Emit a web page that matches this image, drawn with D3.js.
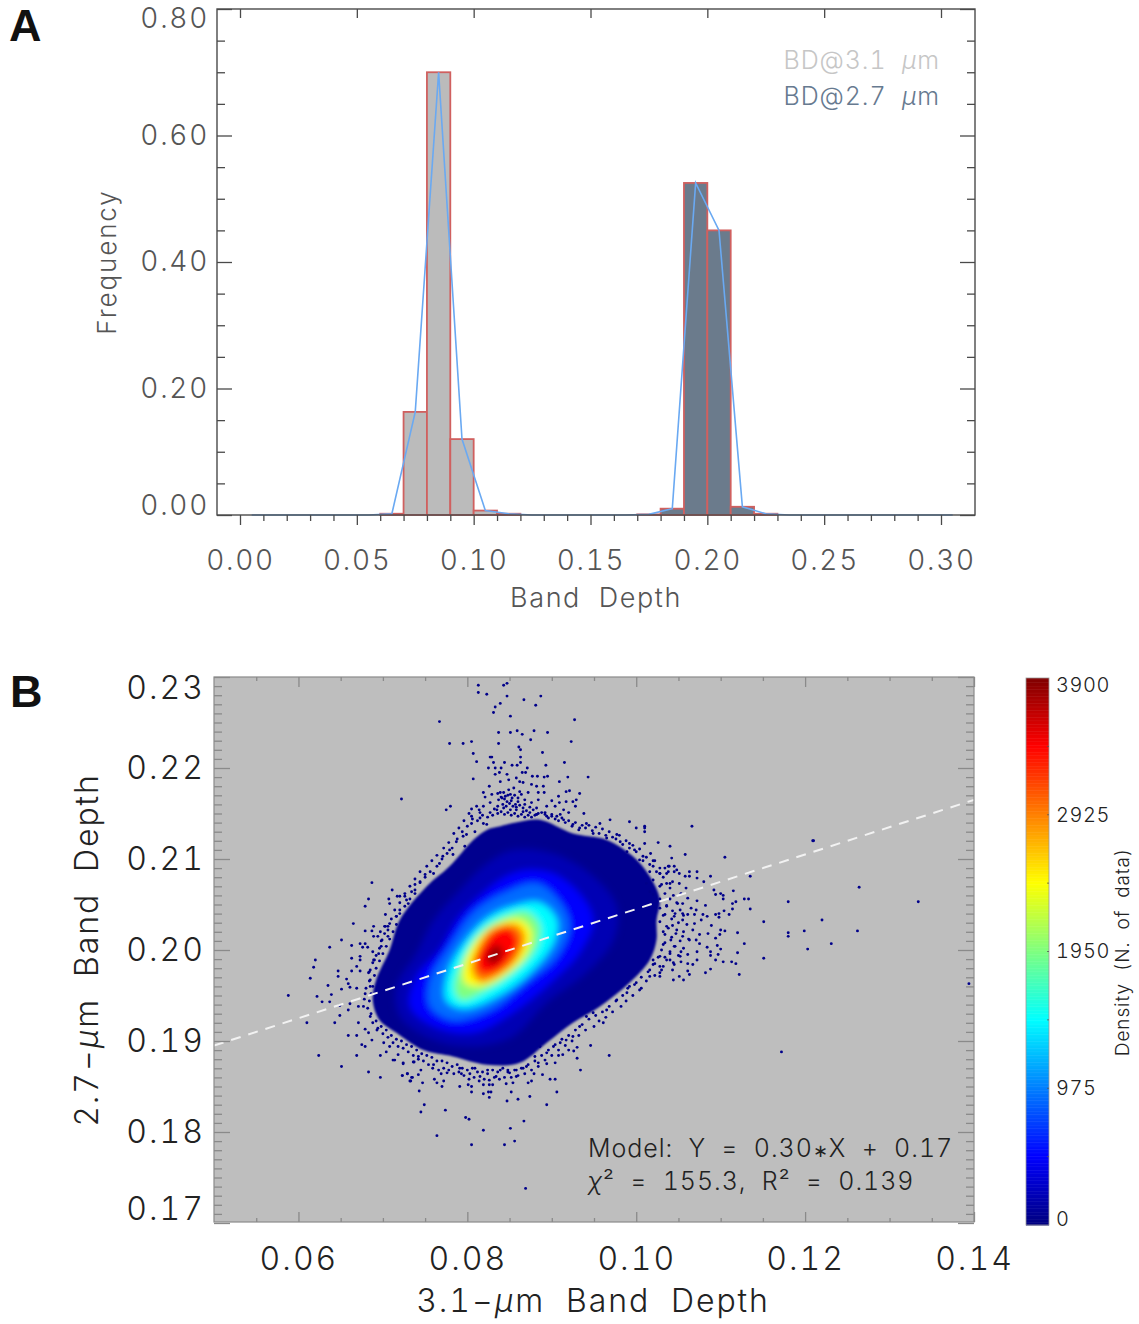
<!DOCTYPE html>
<html>
<head>
<meta charset="utf-8">
<script src="https://cdn.jsdelivr.net/npm/d3@7"></script>
<style>
    body { margin: 0; background: #fff; }
    text { font-family: Inter, "Noto Sans", sans-serif; font-weight: 300; white-space: pre; font-variant-numeric: tabular-nums; }
    .label-panel { font-family: "Liberation Sans", sans-serif; font-weight: 700; font-size: 45px; fill: #111; }
</style>
</head>
<body>
<svg id="grafico"></svg>
<script>
const WIDTH = 1139,
    HEIGHT = 1324;

// panel A: histogram
const binStarts = [0, 0.01, 0.02, 0.03, 0.04, 0.05, 0.06, 0.07, 0.08, 0.09, 0.10, 0.11, 0.12, 0.13, 0.14, 0.15,
    0.16, 0.17, 0.18, 0.19, 0.20, 0.21, 0.22, 0.23, 0.24, 0.25, 0.26, 0.27, 0.28, 0.29, 0.30];
const freq31 = [0, 0, 0, 0, 0, 0, 0.002, 0.163, 0.70, 0.12, 0.007, 0.002, 0, 0, 0, 0,
    0, 0, 0, 0, 0, 0, 0, 0, 0, 0, 0, 0, 0, 0, 0];
const freq27 = [0, 0, 0, 0, 0, 0, 0, 0, 0, 0, 0, 0, 0, 0, 0, 0,
    0, 0.001, 0.010, 0.525, 0.45, 0.013, 0.002, 0, 0, 0, 0, 0, 0, 0, 0];
const freqTicks = [0, 0.2, 0.4, 0.6, 0.8];
const depthTicks = [0, 0.05, 0.10, 0.15, 0.20, 0.25, 0.30];

// panel B: scatter
const depthTicksB = [0.06, 0.08, 0.10, 0.12, 0.14];
const depth27Ticks = [0.17, 0.18, 0.19, 0.20, 0.21, 0.22, 0.23];
const fitX = [0.05, 0.14];
const fitY = [0.1895, 0.2165];

const densityLevels = [60, 200, 480, 900, 1450, 1950, 2450, 2950, 3400, 3800];
const densityRings = [
    [[.0839,.2136],[.0862,.2141],[.0886,.2143],[.0925,.2128],[.0965,.2121],[.0996,.2103],[.1016,.2081],[.1028,.2055],[.1024,.2033],[.1024,.2011],[.1016,.1989],[.0992,.1964],[.0957,.1938],[.0925,.1920],[.0894,.1898],[.0862,.1876],[.0823,.1874],[.0783,.1883],[.0748,.1890],[.0716,.1909],[.0696,.1923],[.0688,.1945],[.0692,.1967],[.0708,.2000],[.0720,.2033],[.0752,.2070],[.0779,.2092],[.0807,.2121],[.0823,.2132]],
    [[.0854,.2110],[.0902,.2106],[.0949,.2081],[.0977,.2048],[.0973,.2011],[.0941,.1975],[.0894,.1942],[.0854,.1905],[.0807,.1894],[.0760,.1901],[.0720,.1927],[.0716,.1960],[.0740,.1997],[.0760,.2033],[.0791,.2066],[.0823,.2095]],
    [[.0870,.2088],[.0902,.2084],[.0933,.2062],[.0949,.2033],[.0933,.1997],[.0902,.1967],[.0854,.1931],[.0807,.1909],[.0760,.1916],[.0732,.1938],[.0740,.1971],[.0767,.2000],[.0791,.2037],[.0823,.2066],[.0846,.2081]],
    [[.0882,.2073],[.0910,.2052],[.0921,.2026],[.0906,.1993],[.0870,.1964],[.0827,.1934],[.0783,.1923],[.0756,.1938],[.0756,.1967],[.0779,.2004],[.0807,.2041],[.0842,.2062]],
    [[.0886,.2052],[.0906,.2033],[.0902,.2008],[.0874,.1975],[.0835,.1949],[.0795,.1936],[.0775,.1945],[.0777,.1975],[.0799,.2011],[.0827,.2037],[.0854,.2048]],
    [[.0870,.2042],[.0886,.2026],[.0880,.2000],[.0854,.1975],[.0823,.1956],[.0793,.1945],[.0785,.1956],[.0791,.1982],[.0811,.2015],[.0835,.2033]],
    [[.0864,.2033],[.0876,.2019],[.0868,.1993],[.0842,.1971],[.0815,.1960],[.0797,.1964],[.0797,.1986],[.0815,.2015],[.0839,.2030]],
    [[.0858,.2028],[.0868,.2015],[.0858,.1989],[.0835,.1971],[.0815,.1965],[.0805,.1978],[.0811,.2000],[.0827,.2022]],
    [[.0850,.2024],[.0860,.2011],[.0850,.1989],[.0831,.1975],[.0815,.1975],[.0811,.1989],[.0823,.2011],[.0835,.2022]],
    [[.0835,.2006],[.0842,.1998],[.0835,.1986],[.0825,.1986],[.0823,.1995],[.0829,.2002]]
];

// single dots around the cloud [x, y]
const dotsTop = [[.0813,.2291],[.0843,.2291],[.0847,.2293],[.0813,.2283],[.0823,.2281],[.0847,.2279],[.0867,.2275],[.0887,.2279],[.0839,.2271],[.0833,.2267],[.0881,.2269],[.0831,.2261],[.0851,.2257],[.0767,.2251],[.0927,.2253],[.0837,.2239],[.0851,.2239],[.0859,.2241],[.0865,.2237],[.0879,.2241],[.0895,.2239],[.0875,.2231],[.0923,.2229],[.0779,.2227],[.0795,.2227],[.0805,.2229],[.0837,.2227],[.0861,.2223],[.0863,.222],[.0889,.2217],[.0807,.2216],[.0827,.2212],[.0829,.2212],[.0863,.2212],[.0811,.2207],[.0831,.2206],[.0863,.2206],[.0844,.2206],[.0853,.2203],[.0859,.2203],[.0893,.2203],[.0915,.2206],[.0825,.22],[.0833,.22],[.084,.22],[.0871,.22],[.0838,.2195],[.0833,.2193],[.0847,.2193],[.0865,.2195],[.0869,.2195],[.0877,.2191],[.0883,.2191],[.0895,.2191],[.0891,.219],[.0919,.219],[.0943,.219],[.0807,.2188],[.0909,.2185],
    [.0839,.2185],[.0849,.2187],[.0858,.2189],[.0862,.2185],[.0866,.2184],[.0876,.2182],[.0882,.218],[.089,.218],[.0826,.218],[.0819,.2173],[.0821,.2168],[.0829,.2171],[.0839,.2173],[.0849,.2176],[.0855,.2178],[.0862,.2174],[.0872,.2173],[.0884,.2173],[.0891,.2173],[.0908,.2169],[.0921,.2175],[.0933,.2172],[.0917,.2174],[.0929,.2165],[.0925,.2163],[.0909,.2162],[.0917,.2163],[.09,.2164],[.0815,.2151],[.0805,.2155],[.0811,.2158],[.0819,.2158],[.0827,.2162],[.0837,.2165],[.0845,.2169],[.0853,.2167],[.086,.2163],[.0868,.2165],[.0876,.2162],[.0884,.2165],[.0894,.2158],[.0904,.2158],[.0914,.2154],[.0928,.2158],[.092,.2151],[.0938,.215],[.078,.2158],[.0775,.2154],
    [.0843,.2173],[.0851,.2171],[.0841,.2167],[.0847,.2163],[.0857,.216],[.0843,.2156],[.0851,.2154],[.0858,.2154],[.0866,.2152],[.0835,.2154],[.0827,.2151],[.0874,.2151],[.0882,.2149],[.0892,.2151],[.09,.2149],[.091,.2149],[.0722,.2166]];
const dotsRight = [[.101,.2136],[.1066,.2136],[.101,.213],[.101,.2117],[.1026,.2118],[.104,.2114],[.1209,.212],[.1058,.2105],[.1042,.2101],[.1105,.2102],[.1017,.2106],[.1022,.2098],[.1045,.2092],[.1039,.2092],[.1034,.209],[.1028,.2084],[.1038,.2086],[.1045,.2086],[.1051,.2084],[.1063,.2086],[.1072,.2086],[.1058,.2081],[.1063,.2081],[.1072,.2079],[.1088,.2081],[.108,.2075],[.1135,.2081],[.1051,.2073],[.1043,.2075],[.1036,.2073],[.1059,.2068],[.1053,.2062],[.1092,.2066],[.11,.2062],[.1094,.2061],[.1103,.206],[.1115,.2065],[.1103,.2056],[.1128,.2056],[.1133,.2056],[.1118,.2053],[.118,.2053],[.1061,.2057],[.1072,.2054],[.1082,.2049],[.1114,.2051],[.1055,.2051],[.1049,.2051],[.1065,.2046],[.1071,.2044],[.1114,.2045],[.1104,.2043],[.1135,.2045],[.1098,.204],[.1094,.2039],[.111,.2039],[.1098,.2036],[.1055,.204],[.1061,.2039],[.1069,.2039],[.1079,.2039],[.1084,.2037],[.1089,.2027],[.1077,.2033],[.1069,.2029],[.1055,.2033],[.1045,.2037],[.1151,.2031],[.122,.2033],[.1199,.2021],[.118,.2019],[.118,.2015],[.112,.2019],[.11,.2022],[.1105,.2021],[.1099,.2017],[.1094,.2013],[.1085,.2018],[.1075,.2017],[.1067,.2022],[.1075,.2007],[.1071,.2011],[.1063,.2011],[.1055,.2015],[.1047,.2018],[.1128,.2007],[.1231,.2007],[.1203,.2001],[.1084,.2003],[.1096,.2005],[.11,.2001],[.1088,.1998],[.1097,.1995],[.112,.1997],[.1088,.1994],[.1072,.1998],[.1061,.1995],[.1053,.1998],[.1045,.2004],[.1151,.1991],[.1094,.1989],[.1103,.1987],[.1113,.1987],[.1118,.1985],[.1072,.1989],[.1053,.1987],[.1067,.1984],[.1061,.1985],[.1045,.1984],[.1088,.1979],[.1082,.1975],[.1061,.1977],[.1122,.1973],[.1043,.1978],[.1051,.1971],[.1063,.1973],[.1028,.1982],
    [.1012,.2073],[.102,.2077],[.1028,.2070],[.1016,.2064],[.102,.2061],[.1028,.2056],[.1036,.2049],[.1028,.2046],[.1034,.2039],[.1043,.2043],[.1028,.2031],[.1036,.2026],[.1043,.2027],[.1034,.2017],[.1041,.2011],[.1032,.2006],[.104,.1998],[.1028,.1993],[.1036,.1989],[.1022,.1985],[.1016,.1978],[.1028,.1975],
    [.1264,.2069],[.1334,.2053],[.1262,.2021],[.1394,.1963],[.1172,.1888],[.1210,.2120]];
const dotsLeft = [[.0687,.2074],[.0711,.2066],[.0738,.2072],[.0683,.2056],[.0707,.2056],[.0679,.2048],[.0717,.2059],[.0726,.2059],[.0703,.2039],[.0665,.2029],[.0689,.2026],[.0679,.2021],[.0687,.2021],[.0651,.2011],[.0673,.2007],[.0663,.2005],[.0637,.2003],[.0679,.2007],[.0676,.2003],[.0682,.2003],[.062,.1989],[.0663,.1991],[.0673,.1989],[.0618,.1981],[.0647,.1977],[.0663,.1977],[.0673,.1977],[.0647,.1971],[.0614,.1969],[.0657,.1968],[.0659,.1963],[.0635,.1961],[.0651,.1957],[.0661,.1959],[.0669,.1958],[.0622,.1949],[.0639,.1951],[.0628,.1943],[.0637,.1943],[.0661,.1941],[.0649,.1939],[.0659,.1934],[.0671,.1938],[.0649,.1928],[.061,.192],[.0643,.192],[.0671,.192],[.0659,.1906],[.0669,.1906],[.0675,.1896],[.0679,.1894],[.0624,.1884],[.0669,.1884],[.0651,.1872],[.0683,.1866],[.0697,.186],[.0723,.1862],[.0729,.1864],[.0734,.186],[.0733,.1856],[.0697,.1884],[.0704,.1888],[.0712,.1879],[.0724,.1876],[.0737,.1877],[.0742,.1883],[.0718,.1885],[.0687,.1901],[.0683,.1909],[.0679,.1913],[.0701,.1898],[.0708,.1894],[.0689,.2015],[.0697,.202],[.0703,.2026],[.0708,.2029],[.0716,.2037],[.072,.2044],[.073,.2051],[.0685,.1978],[.0689,.1989],[.0695,.1996],[.0685,.196],[.0679,.1952],[.0677,.1938],[.0685,.1927],[.0693,.1912],[.0699,.2011],[.0706,.2015],[.0685,.1967],[.0588,.1950],
    [.0805,.2147],[.0799,.2127],[.0787,.2119],[.0779,.211],[.0767,.2095],[.076,.2084],[.0744,.2075],[.0734,.2064],[.072,.2059],[.0708,.2051],[.0702,.2026],[.0694,.2015],[.0688,.1998],[.0673,.1993],[.0669,.1982],[.0815,.2145],[.0819,.2139],[.0823,.2138],[.0805,.2139],[.0795,.2125],[.0809,.213],[.0797,.2114],[.0783,.2105],[.0771,.2103],[.075,.2083],[.0738,.2062],[.0728,.2055],[.0716,.2037],[.0706,.2022],[.0698,.2004],[.069,.1989],[.0683,.1975]];
const dotsBottom = [[.0946,.1895],[.0968,.1884],[.093,.1893],[.092,.189],[.0926,.1889],[.093,.1881],[.0934,.1868],[.0913,.1885],[.0908,.1884],[.0904,.1876],[.0884,.1876],[.0723,.1862],[.0729,.1864],[.0735,.186],[.0732,.1856],[.0747,.1854],[.0743,.1845],[.0761,.1858],[.0764,.1854],[.0772,.1856],[.077,.185],[.0791,.185],[.0801,.1852],[.0805,.185],[.0819,.1852],[.083,.1852],[.0805,.1844],[.0819,.1842],[.0825,.1844],[.0828,.1844],[.0826,.1838],[.0847,.1834],[.0852,.1844],[.086,.1836],[.0874,.1839],[.0872,.1854],[.0876,.1856],[.0889,.1863],[.0898,.1858],[.0904,.1858],[.0906,.1844],[.0894,.183],[.0749,.183],[.0745,.1822],[.0774,.1824],[.0798,.1816],[.0802,.1814],[.0867,.1812],[.0851,.1804],[.0819,.1802],[.0764,.1796],[.0856,.179],[.0805,.1786],[.0844,.1786],[.0869,.1738],
    [.0745,.1868],[.0742,.1863],[.0759,.187],[.0769,.1864],[.0776,.1865],[.0793,.1864],[.0803,.1864],[.0815,.1861],[.0826,.1857],[.0834,.1861],[.0846,.1853],[.0854,.1854],[.0858,.1861],[.0879,.1864],[.0724,.1875],[.0736,.1877],[.0714,.1879],[.0791,.187],[.0809,.187],[.0824,.1868],[.0848,.1868],[.0866,.187],[.0894,.1875]];
const dotsFringe = [[.0906,.2147],[.0925,.2138],[.0941,.2139],[.0957,.2139],[.0969,.2143],[.0977,.2127],[.0992,.2141],[.1,.2134],[.101,.2134],[.0998,.211],[.1008,.2103],[.102,.2092],[.1038,.2092],[.1048,.2088],[.0992,.2117],[.0949,.2128],[.0965,.2123],[.0981,.2119],[.0989,.2108],[.1004,.2099],[.1016,.2086],[.1028,.2084],[.104,.2073],[.0933,.2134],[.0914,.2143],[.0894,.2147],[.0882,.2149],
    [.102,.1989],[.1032,.1982],[.1044,.1967],[.1056,.1967],[.1016,.1971],[.1,.1964],[.0989,.1953],[.0977,.1945],[.0965,.1934],[.0961,.192],[.0941,.1927],[.0933,.1916],[.0917,.1901],[.0902,.1894],[.0886,.1894],[.088,.1883],[.0894,.1887],[.087,.1872],[.1052,.1993],[.104,.1989],[.1028,.1971],[.1004,.1956],[.0992,.196],[.0949,.1931],[.0925,.1905],[.091,.1898],[.0858,.1868],[.085,.1865],[.0839,.1868]];
// the dark speckled band right along the edge of the cloud
const dotsEdge = [[.0836,.2172],[.084,.2168],[.0844,.2166],[.0848,.217],[.0852,.2164],[.0856,.217],[.086,.2167],[.0864,.2171],[.0868,.216],[.0842,.216],[.0846,.2158],[.085,.2161],[.0854,.2158],[.0858,.2157],[.0862,.2159],[.0866,.2156],[.087,.2153],[.0874,.2157],[.0878,.2154],[.0882,.2156],[.0836,.2158],[.0832,.2155],[.083,.2148],[.0836,.215],[.084,.2152],[.0844,.2149],[.0848,.2151],[.0852,.2148],[.0856,.215],[.086,.2147],[.0864,.2149],[.0868,.2146],[.0872,.2148],[.0876,.2146],[.088,.2148],[.0884,.215],[.0888,.2151],[.0892,.2149],[.0896,.2145],[.09,.2147],[.0904,.2144],[.0908,.2142],[.0912,.2145],[.0916,.214],[.092,.2142],[.0924,.2136],[.0928,.214],[.0932,.2132],[.0936,.2137],[.094,.2134],[.0944,.2137],[.0948,.2131],[.0952,.2135],[.0956,.2128],[.096,.2133],[.0964,.2126],[.0968,.213],[.0972,.2124],[.0976,.2122],[.098,.2126],[.0984,.2116],[.0988,.212],[.0992,.2112],[.0996,.2115],[.1,.2108],[.1004,.2111],[.1008,.2098],[.1012,.2102],[.1016,.2094],[.102,.2098],[.1024,.2086],[.1028,.209],[.1032,.208],[.1036,.2084],[.104,.2068],[.103,.2072],[.1044,.206],[.1034,.2062],[.1048,.2052],[.104,.2056],[.1052,.2044],[.1036,.2048],[.1046,.204],[.1056,.2038],[.1032,.2038],[.1042,.2034],[.105,.203],[.106,.2028],[.1038,.2024],[.1048,.2022],[.1056,.202],[.1032,.202],[.1042,.2014],[.1052,.201],[.1062,.2012],[.1034,.2008],[.1046,.2004],[.1056,.2002],[.103,.2],[.104,.1996],[.105,.1994],[.1026,.1992],[.1034,.1992],[.1044,.1986],
    [.102,.1984],[.103,.1978],[.1014,.1976],[.1022,.1972],[.1006,.197],[.1012,.1966],[.0998,.1962],[.1006,.1958],[.099,.1958],[.0996,.195],[.0984,.195],[.0988,.1944],[.0976,.1944],[.0982,.1938],[.0968,.1938],[.0972,.1932],[.096,.1932],[.0964,.1926],[.0952,.1928],[.0956,.1922],[.0944,.1924],[.095,.1916],[.0936,.1918],[.094,.1912],[.0928,.1912],[.0932,.1906],[.092,.1906],[.0924,.19],[.0912,.1902],[.0916,.1895],[.0904,.1896],[.0908,.189],[.0896,.189],[.09,.1884],[.0888,.1884],[.0892,.1879],[.088,.1878],[.0884,.1872],[.0872,.1874],[.0876,.1868],[.0864,.187],[.0868,.1864],[.0856,.1868],[.086,.1862],[.0848,.1866],[.0852,.186],
    [.0842,.187],[.0844,.186],[.0836,.1866],[.0838,.1858],[.083,.1868],[.0832,.186],[.0824,.1864],[.0826,.1852],[.0818,.1866],[.082,.1858],[.0812,.1866],[.0814,.1856],[.0806,.187],[.0808,.186],[.08,.1868],[.0802,.1858],[.0794,.187],[.0796,.1862],[.0788,.1874],[.079,.1866],[.0782,.1872],[.0784,.1864],[.0776,.1876],[.0778,.1868],[.077,.1878],[.0772,.187],[.0764,.1878],[.0766,.1868],[.0758,.1882],[.076,.1874],[.0752,.1884],[.0754,.1874],[.0746,.1886],[.0748,.1878],[.074,.189],[.0742,.188],[.0734,.1894],[.0736,.1884],[.0728,.1896],[.073,.1888],[.0722,.19],[.0724,.1892],[.0716,.1902],[.0718,.1894],[.071,.1906],[.0712,.1898],[.0704,.1912],[.0706,.1904],
    [.0698,.1916],[.07,.1908],[.0692,.1922],[.0694,.1914],[.0686,.193],[.0688,.192],[.0682,.1936],[.0684,.1944],[.0678,.1946],[.0686,.1952],[.068,.1958],[.0688,.196],[.0684,.1966],[.069,.1972],[.0684,.1976],[.0692,.198],[.0688,.1986],[.0696,.1988],[.0692,.1994],[.07,.1996],[.0696,.2002],[.0704,.2004],[.0698,.201],[.0708,.2012],[.0702,.2018],[.0712,.202],[.0706,.2026],[.0716,.2028],[.071,.2034],[.072,.204],[.0714,.2044],[.0726,.2048],[.072,.2052],[.0732,.2056],[.0726,.2062],[.0738,.2066],[.0732,.207],[.0744,.2074],[.0738,.2078],[.075,.208],[.0744,.2086],[.0756,.2086],[.0752,.2092],[.0764,.2092],[.0758,.2098],[.077,.21],[.0764,.2104],[.0776,.2106],[.0772,.2112],[.0782,.2112],[.0778,.2118],[.0788,.2122],[.0784,.2128],[.0794,.213],[.079,.2134],[.08,.2136],[.0796,.2142],[.0806,.2144],[.0812,.2142],[.0802,.215],[.0818,.2148],[.0824,.2146],[.0814,.2154]];

const densityColors = ["#00007f", "#0000ff", "#00ffff", "#ffff00", "#ff0000", "#7f0000"];
const densityStops = [0, 487, 1462, 2437, 3412, 3900];
const densityTicks = [0, 975, 1950, 2925, 3900];

const svg = d3.select("#grafico")
    .attr("width", WIDTH)
    .attr("height", HEIGHT);

const defs = svg.append("defs");
const addBlur = (id, std) => defs.append("filter")
    .attr("id", id)
    .attr("x", "-20%").attr("y", "-20%").attr("width", "140%").attr("height", "140%")
    .append("feGaussianBlur").attr("stdDeviation", std);
addBlur("blur-cloud", 3.6);
addBlur("blur-edge", 1.2);
addBlur("blur-dot", 0.35);

// ---------- A ----------
const boxA = { left: 217, right: 975, top: 9, bottom: 515 };
const colorA = "#4a4a4a";

const escalaDepth = d3.scaleLinear().domain([0, 0.30]).range([240, 941]);
const escalaFreq = d3.scaleLinear().domain([0, 0.8]).range([boxA.bottom, boxA.top]);

const estiloEje = (g, color) => {
    g.select(".domain").remove();
    g.selectAll("line").attr("stroke", color).attr("stroke-width", 1.3);
};

const ejeA = (axis, x, y) => svg.append("g")
    .attr("transform", `translate(${x} ${y})`)
    .call(axis)
    .call(g => estiloEje(g, colorA));

const minorFreq = [0.05, 0.1, 0.15, 0.25, 0.3, 0.35, 0.45, 0.5, 0.55, 0.65, 0.7, 0.75];
const minorDepth = d3.range(31).map(i => i / 100).filter(v => !depthTicks.includes(v));

// bars first, the axes go on top
[{ values: freq31, fill: "#bbbbbb" }, { values: freq27, fill: "#6b7b8c" }].forEach(serie => {
    svg.append("g").selectAll("rect")
        .data(binStarts.map((b, i) => ({ bin: b, freq: serie.values[i] })))
        .join("rect")
        .attr("x", d => escalaDepth(d.bin))
        .attr("width", d => escalaDepth(d.bin + 0.01) - escalaDepth(d.bin))
        .attr("y", d => escalaFreq(d.freq))
        .attr("height", d => escalaFreq(0) - escalaFreq(d.freq))
        .attr("fill", serie.fill)
        .attr("stroke", "#d0605f")
        .attr("stroke-width", 1.8);
});

svg.append("path")
    .datum(binStarts)
    .attr("fill", "none")
    .attr("stroke", "#6aa9f2")
    .attr("stroke-width", 1.6)
    .attr("d", d3.line()
        .x(b => escalaDepth(b + 0.005))
        .y((b, i) => escalaFreq(freq31[i] + freq27[i])));

svg.append("rect")
    .attr("x", boxA.left).attr("y", boxA.top)
    .attr("width", boxA.right - boxA.left).attr("height", boxA.bottom - boxA.top)
    .attr("fill", "none").attr("stroke", colorA).attr("stroke-width", 1.4);

const ejeFreq = ejeA(d3.axisLeft(escalaFreq).tickValues(freqTicks).tickFormat(d3.format(".2f")).tickSize(-15).tickSizeOuter(0).tickPadding(8), boxA.left, 0);
ejeA(d3.axisLeft(escalaFreq).tickValues(minorFreq).tickFormat("").tickSize(-8).tickSizeOuter(0), boxA.left, 0);
ejeA(d3.axisRight(escalaFreq).tickValues(freqTicks).tickFormat("").tickSize(-15).tickSizeOuter(0), boxA.right, 0);
ejeA(d3.axisRight(escalaFreq).tickValues(minorFreq).tickFormat("").tickSize(-8).tickSizeOuter(0), boxA.right, 0);
const ejeDepth = ejeA(d3.axisBottom(escalaDepth).tickValues(depthTicks).tickFormat(d3.format(".2f")).tickSize(10).tickSizeOuter(0).tickPadding(25), 0, boxA.bottom);
ejeA(d3.axisBottom(escalaDepth).tickValues(minorDepth).tickFormat("").tickSize(6).tickSizeOuter(0), 0, boxA.bottom);
ejeA(d3.axisTop(escalaDepth).tickValues(depthTicks).tickFormat("").tickSize(-9).tickSizeOuter(0), 0, boxA.top);

const estiloTicks = (g, size, color, spacing) => g.selectAll("text")
    .attr("font-size", size)
    .attr("fill", color)
    .attr("letter-spacing", spacing)
    .style("font-family", "Inter")
    .style("font-weight", 300);

estiloTicks(ejeFreq, 28, "#555", 1.7);
estiloTicks(ejeDepth, 28, "#555", 1.7);
ejeFreq.selectAll("text").attr("dy", d => d === 0 ? "-0.02em" : d === 0.8 ? "0.67em" : "0.32em");

const texto = (x, y, str, size, color, spacing, anchor, rotate) => svg.append("text")
    .attr("transform", `translate(${x} ${y})${rotate ? " rotate(-90)" : ""}`)
    .attr("text-anchor", anchor || "middle")
    .attr("font-size", size)
    .attr("fill", color)
    .attr("letter-spacing", spacing)
    .text(str);

texto(596, 607, "Band  Depth", 27, "#555", 1.6);
texto(116, 262, "Frequency", 26, "#555", 1.9, "middle", true);

const leyenda = (y, str, color) => {
    const t = texto(940, y, str, 25, color, 0.9, "end");
    t.append("tspan").attr("font-style", "italic").text("µ");
    t.append("tspan").text("m");
};
leyenda(69, "BD@3.1  ", "#c6c6c6");
leyenda(105, "BD@2.7  ", "#677a90");

svg.append("text").attr("class", "label-panel").attr("x", 9).attr("y", 41).text("A");

// ---------- B ----------
const boxB = { left: 214, right: 974, top: 677, bottom: 1222 };
const colorB = "#8a8a8a";

const escalaX = d3.scaleLinear().domain([0.05, 0.14]).range([boxB.left, boxB.right]);
const escalaY = d3.scaleLinear().domain([0.17, 0.23]).range([1223, boxB.top]);
const escalaDensidad = d3.scaleLinear().domain(densityStops).range(densityColors);

svg.append("rect")
    .attr("x", boxB.left).attr("y", boxB.top)
    .attr("width", boxB.right - boxB.left).attr("height", boxB.bottom - boxB.top)
    .attr("fill", "#bebebe");

defs.append("clipPath").attr("id", "clip-b").append("rect")
    .attr("x", boxB.left).attr("y", boxB.top)
    .attr("width", boxB.right - boxB.left).attr("height", boxB.bottom - boxB.top);

const contenedorNube = svg.append("g").attr("clip-path", "url(#clip-b)");

const anillo = d3.line()
    .x(d => escalaX(d[0]))
    .y(d => escalaY(d[1]))
    .curve(d3.curveCatmullRomClosed);

const puntos = [...dotsTop, ...dotsRight, ...dotsLeft, ...dotsBottom, ...dotsFringe, ...dotsEdge];

contenedorNube.append("path")
    .datum(densityRings[0])
    .attr("d", anillo)
    .attr("fill", escalaDensidad(densityLevels[0]))
    .attr("filter", "url(#blur-edge)");

contenedorNube.append("g")
    .attr("filter", "url(#blur-dot)")
    .selectAll("circle")
    .data(puntos)
    .join("circle")
    .attr("cx", d => escalaX(d[0]))
    .attr("cy", d => escalaY(d[1]))
    .attr("r", 1.45)
    .attr("fill", "#00008a");

contenedorNube.append("g")
    .attr("filter", "url(#blur-cloud)")
    .selectAll("path")
    .data(densityRings.slice(1))
    .join("path")
    .attr("d", anillo)
    .attr("fill", (d, i) => escalaDensidad(densityLevels[i + 1]));

contenedorNube.append("path")
    .datum(fitX)
    .attr("fill", "none")
    .attr("stroke", "#f2f2f2")
    .attr("stroke-width", 2)
    .attr("stroke-dasharray", "10 8")
    .attr("d", d3.line().x(d => escalaX(d)).y((d, i) => escalaY(fitY[i])));

svg.append("rect")
    .attr("x", boxB.left).attr("y", boxB.top)
    .attr("width", boxB.right - boxB.left).attr("height", boxB.bottom - boxB.top)
    .attr("fill", "none").attr("stroke", colorB).attr("stroke-width", 1.2);

const ejeB = (axis, x, y) => svg.append("g")
    .attr("transform", `translate(${x} ${y})`)
    .call(axis)
    .call(g => estiloEje(g, colorB));

const minorY = d3.range(171, 230).map(i => i / 1000).filter(v => !depth27Ticks.includes(v));
const minorX = d3.range(1, 18).map(i => 0.05 + i * 0.005).filter(v => !depthTicksB.some(t => Math.abs(t - v) < 1e-6));

const ejeYB = ejeB(d3.axisLeft(escalaY).tickValues(depth27Ticks).tickFormat(d3.format(".2f")).tickSize(-16).tickSizeOuter(0).tickPadding(9), boxB.left, 0);
ejeB(d3.axisLeft(escalaY).tickValues(minorY).tickFormat("").tickSize(-8).tickSizeOuter(0), boxB.left, 0);
ejeB(d3.axisRight(escalaY).tickValues(depth27Ticks).tickFormat("").tickSize(-16).tickSizeOuter(0), boxB.right, 0);
ejeB(d3.axisRight(escalaY).tickValues(minorY).tickFormat("").tickSize(-8).tickSizeOuter(0), boxB.right, 0);
const ejeXB = ejeB(d3.axisBottom(escalaX).tickValues(depthTicksB).tickFormat(d3.format(".2f")).tickSize(-10).tickSizeOuter(0).tickPadding(25), 0, boxB.bottom);
ejeB(d3.axisBottom(escalaX).tickValues(minorX).tickFormat("").tickSize(-4).tickSizeOuter(0), 0, boxB.bottom);
ejeB(d3.axisTop(escalaX).tickValues(depthTicksB).tickFormat("").tickSize(-10).tickSizeOuter(0), 0, boxB.top);
ejeB(d3.axisTop(escalaX).tickValues(minorX).tickFormat("").tickSize(-4).tickSizeOuter(0), 0, boxB.top);

estiloTicks(ejeYB, 32, "#222", 2);
estiloTicks(ejeXB, 32, "#222", 2);
ejeYB.selectAll("text").attr("dy", d => d === 0.17 ? "-0.1em" : d === 0.23 ? "0.68em" : "0.32em");

const labelX = texto(593, 1312, "", 32, "#222", 1.9, "middle", false);
labelX.append("tspan").text("3.1−");
labelX.append("tspan").attr("font-style", "italic").text("µ");
labelX.append("tspan").text("m  Band  Depth");
const labelY = texto(98, 950, "", 32, "#222", 1.9, "middle", true);
labelY.append("tspan").text("2.7−");
labelY.append("tspan").attr("font-style", "italic").text("µ");
labelY.append("tspan").text("m  Band  Depth");

const modelo = texto(588, 1157, "", 25, "#222", 0.95, "start");
modelo.append("tspan").text("Model:  Y  =  0.30");
modelo.append("tspan").attr("font-size", 18).text("∗");
modelo.append("tspan").text("X  +  0.17");
const chi = texto(588, 1190, "", 25, "#222", 0.95, "start");
chi.append("tspan").attr("font-style", "italic").text("χ");
chi.append("tspan").text("²  =  155.3,  R²  =  0.139");

svg.append("text").attr("class", "label-panel").attr("x", 10).attr("y", 707).text("B");

// ---------- colour bar ----------
const barra = { left: 1026, right: 1049, top: 678, bottom: 1225 };
const escalaBarra = d3.scaleLinear().domain([0, 3900]).range([barra.bottom, barra.top]);

svg.append("g").selectAll("rect")
    .data(d3.range(0, 3900, 10))
    .join("rect")
    .attr("x", barra.left)
    .attr("width", barra.right - barra.left)
    .attr("y", d => escalaBarra(d + 10))
    .attr("height", d => escalaBarra(d) - escalaBarra(d + 10) + 0.5)
    .attr("fill", d => escalaDensidad(d));

svg.append("rect")
    .attr("x", barra.left).attr("y", barra.top)
    .attr("width", barra.right - barra.left).attr("height", barra.bottom - barra.top)
    .attr("fill", "none").attr("stroke", "#999").attr("stroke-width", 0.8);

const ejeBarra = svg.append("g")
    .attr("transform", `translate(${barra.right} 0)`)
    .call(d3.axisRight(escalaBarra).tickValues(densityTicks).tickSize(0).tickPadding(7).tickFormat(d3.format("d")))
    .call(g => g.select(".domain").remove());
estiloTicks(ejeBarra, 20, "#222", 0.6);
ejeBarra.selectAll("text").attr("dy", d => d === 0 ? "0.02em" : d === 3900 ? "0.68em" : "0.32em");

svg.append("g").selectAll("line")
    .data([487.5, 975, 1462.5, 1950, 2437.5, 2925, 3412.5])
    .join("line")
    .attr("x1", barra.right - 2).attr("x2", barra.right)
    .attr("y1", d => escalaBarra(d)).attr("y2", d => escalaBarra(d))
    .attr("stroke", "#555").attr("stroke-width", 0.8);

texto(1129, 952, "Density  (N.  of  data)", 19, "#222", 0.9, "middle", true);
</script>
</body>
</html>
